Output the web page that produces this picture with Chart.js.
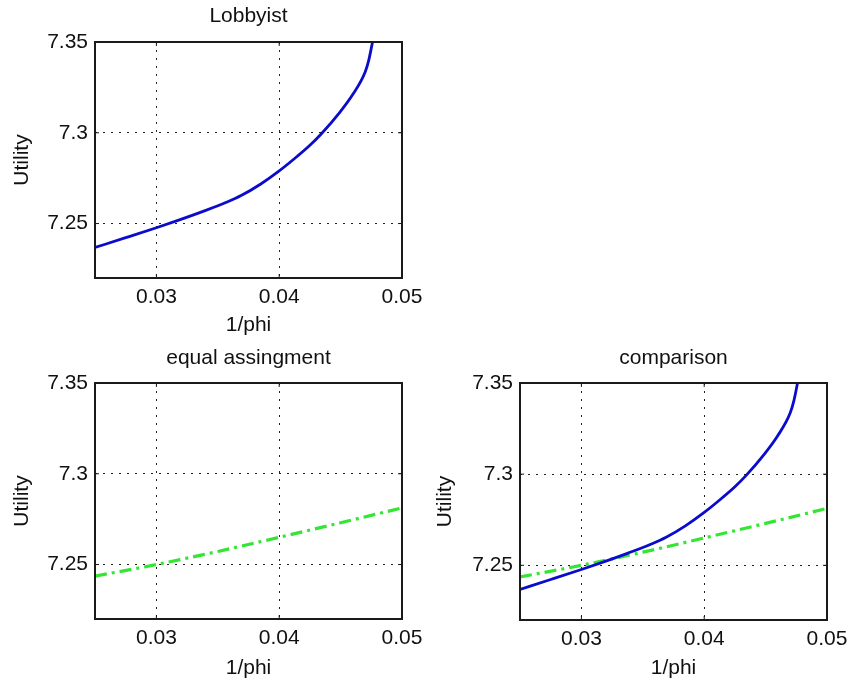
<!DOCTYPE html>
<html>
<head>
<meta charset="utf-8">
<script src="https://cdn.jsdelivr.net/npm/chart.js@4.4.1/dist/chart.umd.min.js"></script>
<style>
  html, body { margin: 0; padding: 0; background: #fff; }
  #wrap { position: relative; width: 848px; height: 685px; }
  .panel { position: absolute; }
</style>
</head>
<body>
<div id="wrap">
  <div class="panel" style="left:0;top:0;width:430px;height:340px"><canvas id="c1"></canvas></div>
  <div class="panel" style="left:0;top:340px;width:430px;height:345px"><canvas id="c2"></canvas></div>
  <div class="panel" style="left:430px;top:340px;width:418px;height:345px"><canvas id="c3"></canvas></div>
</div>
<script>
// values
const xTicks = [0.03, 0.04, 0.05];
const yTicks = [7.25, 7.3, 7.35];
const xMin = 0.025, xMax = 0.05;
const yMin = 7.22, yMax = 7.35;

const lobbyPhi     = [0.025, 0.0275, 0.030, 0.0317, 0.0338, 0.0357, 0.0369, 0.0385, 0.040, 0.0415, 0.0425, 0.0434, 0.0449, 0.0460, 0.0470, 0.0473, 0.0476];
const lobbyUtility = [7.2368, 7.2422, 7.2477, 7.2516, 7.2567, 7.2617, 7.2654, 7.2718, 7.279, 7.2872, 7.2931, 7.2992, 7.311, 7.3212, 7.3335, 7.3402, 7.35];

const equalPhi     = [0.025, 0.030, 0.035, 0.040, 0.045, 0.050];
const equalUtility = [7.2436, 7.2500, 7.2572, 7.2650, 7.2730, 7.2812];

const FONT = "'Liberation Sans', Arial, Helvetica, sans-serif";
const BLUE = '#0b0bcc';
const GREEN = '#33e633';

function pts(xs, ys) { return xs.map((x, i) => ({ x: x, y: ys[i] })); }

const lobbySet = {
  data: pts(lobbyPhi, lobbyUtility),
  borderColor: BLUE, borderWidth: 2.8, pointRadius: 0,
  cubicInterpolationMode: 'monotone', fill: false
};
const equalSet = {
  data: pts(equalPhi, equalUtility),
  borderColor: GREEN, borderWidth: 3.2, pointRadius: 0,
  cubicInterpolationMode: 'monotone',
  borderDash: [12, 5, 3, 5], fill: false
};

// solid frame around the axes plus small inward ticks, matlab style
const boxPlugin = {
  id: 'box',
  afterDraw(chart) {
    const { ctx, chartArea: a, scales } = chart;
    ctx.save();
    ctx.strokeStyle = '#1a1a1a';
    ctx.lineWidth = 1;
    ctx.beginPath();
    scales.x.ticks.forEach(t => {
      const px = scales.x.getPixelForValue(t.value);
      ctx.moveTo(px, a.bottom); ctx.lineTo(px, a.bottom - 4);
      ctx.moveTo(px, a.top); ctx.lineTo(px, a.top + 4);
    });
    scales.y.ticks.forEach(t => {
      const py = scales.y.getPixelForValue(t.value);
      ctx.moveTo(a.left, py); ctx.lineTo(a.left + 4, py);
      ctx.moveTo(a.right, py); ctx.lineTo(a.right - 4, py);
    });
    ctx.stroke();
    ctx.lineWidth = 2;
    ctx.strokeRect(a.left, a.top, a.right - a.left, a.bottom - a.top);
    ctx.restore();
  }
};

function makeChart(id, cfg) {
  const W = cfg.w, H = cfg.h, A = cfg.area;
  const lh = 21 * 1.2;
  const font = { family: FONT, size: 21, weight: 'normal', lineHeight: 1.2 };
  new Chart(document.getElementById(id), {
    type: 'line',
    data: { datasets: cfg.datasets },
    plugins: [boxPlugin],
    options: {
      responsive: true,
      maintainAspectRatio: false,
      animation: false,
      layout: { padding: { left: 0, top: 0, right: W - A.right, bottom: 0 } },
      plugins: { legend: { display: false }, tooltip: { enabled: false } },
      scales: {
        x: {
          type: 'linear', min: xMin, max: xMax,
          afterBuildTicks: s => { s.ticks = xTicks.map(v => ({ value: v })); },
          afterFit: s => { s.height = H - A.bottom; s.paddingLeft = 0; s.paddingRight = 0; },
          grid: { color: '#222', lineWidth: 1, drawTicks: false },
          border: { display: false, dash: [2, 6] },
          ticks: {
            color: '#111', padding: 7, autoSkip: false, maxRotation: 0,
            font: font, callback: v => String(v)
          },
          title: {
            display: true, text: '1/phi', color: '#111', font: font,
            padding: { top: 0, bottom: cfg.xTitleBottom - lh / 2 }
          }
        },
        // top axis only carries the panel title so it centres over the plot box
        top: {
          type: 'linear', position: 'top', min: xMin, max: xMax,
          afterFit: s => { s.height = A.top; s.paddingLeft = 0; s.paddingRight = 0; },
          grid: { display: false, drawTicks: false },
          border: { display: false },
          ticks: { display: false },
          title: {
            display: true, text: cfg.title, color: '#111', font: font,
            padding: { top: cfg.titleY - lh / 2, bottom: 0 }
          }
        },
        y: {
          type: 'linear', min: yMin, max: yMax,
          afterBuildTicks: s => { s.ticks = yTicks.map(v => ({ value: v })); },
          afterFit: s => { s.width = A.left; s.paddingTop = 0; s.paddingBottom = 0; },
          grid: { color: '#222', lineWidth: 1, drawTicks: false },
          border: { display: false, dash: [2, 6] },
          ticks: {
            color: '#111', padding: 7, autoSkip: false,
            font: font, callback: v => String(v)
          },
          title: {
            display: true, text: 'Utility', color: '#111', font: font,
            padding: { top: cfg.yTitleX - lh / 2, bottom: 0 }
          }
        }
      }
    }
  });
}

makeChart('c1', {
  w: 430, h: 340, area: { left: 95, top: 42, right: 402, bottom: 278 },
  title: 'Lobbyist', titleY: 16, xTitleBottom: 15, yTitleX: 22,
  datasets: [lobbySet]
});
makeChart('c2', {
  w: 430, h: 345, area: { left: 95, top: 43, right: 402, bottom: 279 },
  title: 'equal assingment', titleY: 18, xTitleBottom: 17, yTitleX: 22,
  datasets: [Object.assign({}, equalSet)]
});
makeChart('c3', {
  w: 418, h: 345, area: { left: 90, top: 43, right: 397, bottom: 280 },
  title: 'comparison', titleY: 18, xTitleBottom: 17, yTitleX: 15,
  datasets: [Object.assign({}, lobbySet), Object.assign({}, equalSet)]
});
</script>
</body>
</html>
